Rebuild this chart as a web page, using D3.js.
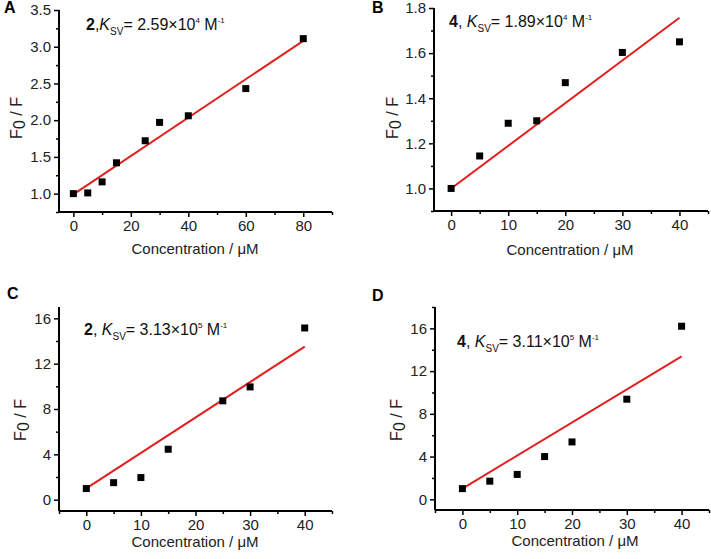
<!DOCTYPE html>
<html>
<head>
<meta charset="utf-8">
<script src="https://cdn.jsdelivr.net/npm/d3@7"></script>
<style>
  html, body { margin: 0; padding: 0; background: #fff; }
  svg { display: block; font-family: Arial, "Liberation Sans", sans-serif; }
</style>
</head>
<body>
<svg id="chart" width="711" height="559"></svg>
<script>
// ---------- data ----------
const concA = [0, 5, 10, 15, 25, 30, 40, 60, 80];
const ratioA = [1.0, 1.01, 1.16, 1.42, 1.72, 1.97, 2.06, 2.43, 3.11];
const fitA = [[0, 0.99], [80, 3.08]];

const concB = [0, 5, 10, 15, 20, 30, 40];
const ratioB = [1.0, 1.144, 1.289, 1.30, 1.469, 1.603, 1.65];
const fitB = [[0, 1.0], [40, 1.757]];

const concC = [0, 5, 10, 15, 25, 30, 40];
const ratioC = [0.98, 1.5, 1.95, 4.45, 8.72, 9.95, 15.15];
const fitC = [[0, 1.0], [40, 13.5]];

const concD = [0, 5, 10, 15, 20, 30, 40];
const ratioD = [1.0, 1.7, 2.33, 4.0, 5.37, 9.37, 16.2];
const fitD = [[0, 1.0], [40, 13.37]];

const xTicksA = [0, 20, 40, 60, 80];
const yTicksA = [1.0, 1.5, 2.0, 2.5, 3.0, 3.5];
const xTicksB = [0, 10, 20, 30, 40];
const yTicksB = [1.0, 1.2, 1.4, 1.6, 1.8];
const xTicksC = [0, 10, 20, 30, 40];
const yTicksC = [0, 4, 8, 12, 16];
const xTicksD = [0, 10, 20, 30, 40];
const yTicksD = [0, 4, 8, 12, 16];

const panelLabels = ["A", "B", "C", "D"];
const compounds = ["2", "4", "2", "4"];
const ksvMantissa = ["2.59", "1.89", "3.13", "3.11"];
const ksvExponent = ["4", "4", "5", "5"];
const xTitle = "Concentration / \u03BCM";

// ---------- layout ----------
const panels = [
  { label: panelLabels[0], x: concA, y: ratioA, fit: fitA, xt: xTicksA, yt: yTicksA, xdom: [-5, 90], ydom: [0.75, 3.5],
    xr: [59, 332], yr: [212, 10], xMinor: 10, yMinor: 0.25, fmt: d3.format(".1f"),
    comp: compounds[0], mant: ksvMantissa[0], exp: ksvExponent[0], comma: ",",
    lab: [4, 13], ann: [86, 30], ytitle: [22, 118], xtitle: [195, 254] },
  { label: panelLabels[1], x: concB, y: ratioB, fit: fitB, xt: xTicksB, yt: yTicksB, xdom: [-3, 45], ydom: [0.9, 1.8],
    xr: [434, 708], yr: [211, 8], xMinor: 5, yMinor: 0.1, fmt: d3.format(".1f"),
    comp: compounds[1], mant: ksvMantissa[1], exp: ksvExponent[1], comma: ", ",
    lab: [372, 13], ann: [449, 27], ytitle: [398, 118], xtitle: [570, 255] },
  { label: panelLabels[2], x: concC, y: ratioC, fit: fitC, xt: xTicksC, yt: yTicksC, xdom: [-5, 45], ydom: [-1, 17],
    xr: [59, 332], yr: [511, 307], xMinor: 5, yMinor: 2, fmt: d3.format("d"),
    comp: compounds[2], mant: ksvMantissa[2], exp: ksvExponent[2], comma: ", ",
    lab: [7, 299], ann: [84, 335], ytitle: [26, 420], xtitle: [195, 547] },
  { label: panelLabels[3], x: concD, y: ratioD, fit: fitD, xt: xTicksD, yt: yTicksD, xdom: [-5, 45], ydom: [-1, 18],
    xr: [435, 709], yr: [510, 307], xMinor: 5, yMinor: 2, fmt: d3.format("d"),
    comp: compounds[3], mant: ksvMantissa[3], exp: ksvExponent[3], comma: ", ",
    lab: [372, 301], ann: [457, 347], ytitle: [402, 420], xtitle: [575, 546] }
];

const svg = d3.select("#chart");
const RED = "#e21f1f";

panels.forEach(p => {
  const g = svg.append("g");
  const x = d3.scaleLinear().domain(p.xdom).range(p.xr);
  const y = d3.scaleLinear().domain(p.ydom).range(p.yr);

  // minor ticks
  const xMinorVals = d3.range(Math.ceil(p.xdom[0] / p.xMinor) * p.xMinor, p.xdom[1] + 1e-9, p.xMinor)
    .filter(v => !p.xt.some(t => Math.abs(t - v) < 1e-9));
  const yMinorVals = d3.range(Math.ceil(p.ydom[0] / p.yMinor - 1e-9) * p.yMinor, p.ydom[1] + 1e-9, p.yMinor)
    .filter(v => !p.yt.some(t => Math.abs(t - v) < 1e-9));

  const xAxisMinor = d3.axisBottom(x).tickValues(xMinorVals).tickSize(3).tickFormat("");
  const yAxisMinor = d3.axisLeft(y).tickValues(yMinorVals).tickSize(3).tickFormat("");
  const xAxis = d3.axisBottom(x).tickValues(p.xt).tickSize(5).tickPadding(3).tickSizeOuter(0).tickFormat(d3.format("d"));
  const yAxis = d3.axisLeft(y).tickValues(p.yt).tickSize(5).tickPadding(3).tickSizeOuter(0).tickFormat(p.fmt);

  const styleAxis = sel => {
    sel.selectAll(".domain").attr("stroke", "#000").attr("stroke-width", 2);
    sel.selectAll(".tick line").attr("stroke", "#000").attr("stroke-width", 1.5);
    sel.selectAll(".tick text").attr("fill", "#222").style("font-size", "15px")
      .style("font-family", "Arial, 'Liberation Sans', sans-serif");
  };

  g.append("g").attr("transform", `translate(0,${p.yr[0]})`).call(xAxisMinor).call(styleAxis)
    .select(".domain").remove();
  g.append("g").attr("transform", `translate(${p.xr[0]},0)`).call(yAxisMinor).call(styleAxis)
    .select(".domain").remove();
  g.append("g").attr("transform", `translate(0,${p.yr[0]})`).call(xAxis).call(styleAxis)
    .select(".domain").attr("d", `M${p.xr[0]},0H${p.xr[1]}`);
  g.append("g").attr("transform", `translate(${p.xr[0]},0)`).call(yAxis).call(styleAxis)
    .select(".domain").attr("d", `M0,${p.yr[0]}V${p.yr[1]}`);

  // fit line
  g.append("path")
    .datum(p.fit)
    .attr("d", d3.line().x(d => x(d[0])).y(d => y(d[1])))
    .attr("stroke", RED).attr("stroke-width", 2).attr("fill", "none");

  // points
  const s = 7;
  g.selectAll("rect.pt").data(p.x.map((v, i) => [v, p.y[i]])).enter()
    .append("rect").attr("class", "pt")
    .attr("x", d => x(d[0]) - s / 2).attr("y", d => y(d[1]) - s / 2)
    .attr("width", s).attr("height", s).attr("fill", "#000");

  // panel label
  g.append("text").attr("x", p.lab[0]).attr("y", p.lab[1])
    .attr("font-weight", "bold").attr("font-size", 16).attr("fill", "#000").text(p.label);

  // annotation
  const t = g.append("text").attr("x", p.ann[0]).attr("y", p.ann[1]).attr("font-size", 16).attr("fill", "#111");
  t.append("tspan").attr("font-weight", "bold").text(p.comp);
  t.append("tspan").text(p.comma);
  t.append("tspan").attr("font-style", "italic").text("K");
  t.append("tspan").attr("font-size", 10).attr("dy", 5).text("SV");
  t.append("tspan").attr("dy", -5).text("= " + p.mant + "\u00D710");
  t.append("tspan").attr("font-size", 8).attr("dy", -7).text(p.exp);
  t.append("tspan").attr("dy", 7).text(" M");
  t.append("tspan").attr("font-size", 8).attr("dy", -7).text("-1");

  // y title
  const yt = g.append("text")
    .attr("transform", `translate(${p.ytitle[0]},${p.ytitle[1]}) rotate(-90)`)
    .attr("text-anchor", "middle").attr("font-size", 16).attr("fill", "#222");
  yt.append("tspan").text("F");
  yt.append("tspan").attr("dy", 3).text("0");
  yt.append("tspan").attr("dy", -3).text(" / F");

  // x title
  g.append("text").attr("x", p.xtitle[0]).attr("y", p.xtitle[1])
    .attr("text-anchor", "middle").attr("font-size", 15).attr("fill", "#222").text(xTitle);
});
</script>
</body>
</html>
